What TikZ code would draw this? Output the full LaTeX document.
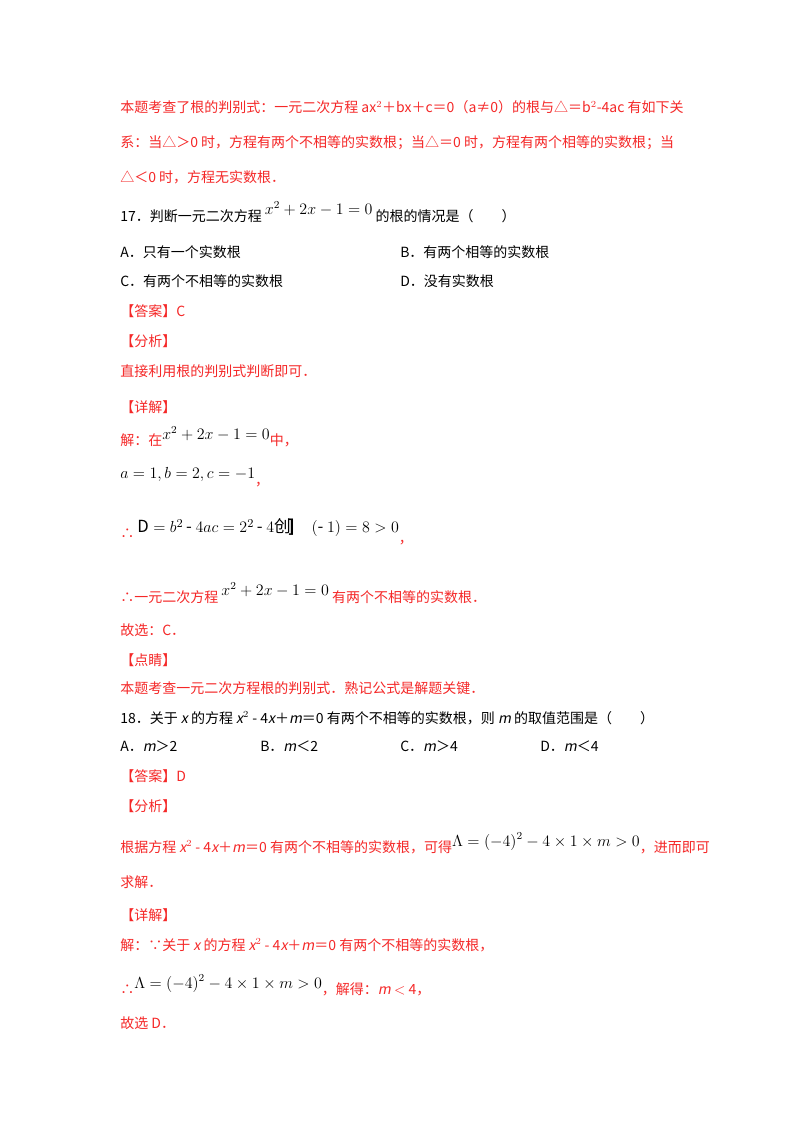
\documentclass[tikz,border=0pt]{standalone}
\usepackage{fontspec}
\setmainfont[AutoFakeSlant=0.2]{Noto Sans CJK SC}
\begin{document}
\begin{tikzpicture}[x=0.75pt,y=-0.75pt,
  t/.style={anchor=west,inner sep=0pt,font=\fontsize{10.5}{12}\selectfont},
  r/.style={t,text={rgb,255:red,245;green,40;blue,40}},
  k/.style={t,text=black}]
\fill[white] (0,0) rectangle (800,1132);
\useasboundingbox (0,0) rectangle (800,1132);
\node[r] (l1) at (120,107) {本题考查了根的判别式：一元二次方程 ax$^2$＋bx＋c＝0（a≠0）的根与△＝b$^2$-4ac 有如下关};
\node[r] (l2) at (120,143) {系：当△＞0 时，方程有两个不相等的实数根；当△＝0 时，方程有两个相等的实数根；当};
\node[r] (l3) at (120,177) {△＜0 时，方程无实数根．};
\node[k] (l4) at (120,212) {17．判断一元二次方程 \raisebox{5pt}{\fontsize{12}{14}\selectfont$x^2+2x-1=0$} 的根的情况是（\qquad）};
\node[k] (a) at (120,252) {A．只有一个实数根};
\node[k] (b) at (400,252) {B．有两个相等的实数根};
\node[k] (c) at (120,281) {C．有两个不相等的实数根};
\node[k] (d) at (400,281) {D．没有实数根};
\node[r] (l7) at (120,311) {【答案】C};
\node[r] (l8) at (120,341) {【分析】};
\node[r] (l9) at (120,371) {直接利用根的判别式判断即可．};
\node[r] (l10) at (120,407) {【详解】};
\node[r] (l11) at (120,437) {解：在\raisebox{5pt}{\color{black}\fontsize{12}{14}\selectfont$x^2+2x-1=0$}中，};
\node[r] (l12) at (120,477) {{\color{black}\fontsize{12.5}{14}\selectfont$a=1,b=2,c=-1$}\raisebox{-5pt}{，}};
\node[r] (l13) at (120,532) {∴ \raisebox{4pt}{\color{black}\fontsize{12.5}{14}\selectfont$\mathrm{D}=b^2\,\mbox{-}\ 4ac=2^2\,\mbox{-}\ 4$创\hspace{-2pt}\textbf{]}\quad$(\mbox{-}\ 1)=8>0$}\raisebox{-4pt}{，}};
\node[r] (l14) at (120,593) {∴一元二次方程 \raisebox{5pt}{\color{black}\fontsize{12}{14}\selectfont$x^2+2x-1=0$} 有两个不相等的实数根．};
\node[r] (l15) at (120,630) {故选：C．};
\node[r] (l16) at (120,660) {【点睛】};
\node[r] (l17) at (120,688) {本题考查一元二次方程根的判别式．熟记公式是解题关键．};
\node[k] (l18) at (120,718) {18．关于 \textit{x} 的方程 \textit{x}$^2$ - 4\textit{x}＋\textit{m}＝0 有两个不相等的实数根，则 \textit{m} 的取值范围是（\qquad）};
\node[k] (o1) at (120,746) {A．\textit{m}＞2};
\node[k] (o2) at (260,746) {B．\textit{m}＜2};
\node[k] (o3) at (400,746) {C．\textit{m}＞4};
\node[k] (o4) at (540,746) {D．\textit{m}＜4};
\node[r] (l20) at (120,776) {【答案】D};
\node[r] (l21) at (120,806) {【分析】};
\node[r] (l22) at (120,843) {根据方程 \textit{x}$^2$ - 4\textit{x}＋\textit{m}＝0 有两个不相等的实数根，可得\raisebox{4pt}{\color{black}\fontsize{12}{14}\selectfont$\Lambda=\left(-4\right)^2-4\times1\times m>0$}，进而即可};
\node[r] (l23) at (120,882) {求解．};
\node[r] (l24) at (120,915) {【详解】};
\node[r] (l25) at (120,945) {解：∵关于 \textit{x} 的方程 \textit{x}$^2$ - 4\textit{x}＋\textit{m}＝0 有两个不相等的实数根，};
\node[r] (l26) at (120,985) {∴\raisebox{4pt}{\color{black}\fontsize{12}{14}\selectfont$\Lambda=\left(-4\right)^2-4\times1\times m>0$}，解得：\textit{m} $<$ 4，};
\node[r] (l27) at (120,1023) {故选 D．};
\end{tikzpicture}
\end{document}
